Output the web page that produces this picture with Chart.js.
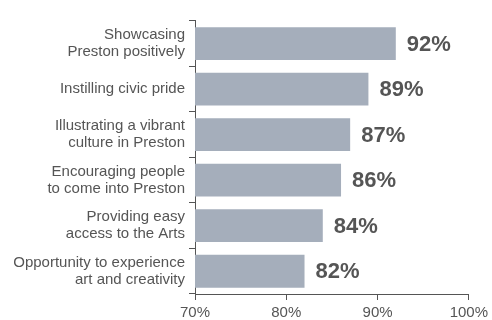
<!DOCTYPE html>
<html>
<head>
<meta charset="utf-8">
<script src="https://cdn.jsdelivr.net/npm/chart.js@4/dist/chart.umd.min.js"></script>
<style>
  html, body { margin: 0; padding: 0; background: #fff; }
  #wrap { width: 492px; height: 320px; position: relative; }
</style>
</head>
<body>
<div id="wrap"><canvas id="benefits"></canvas></div>
<script>
"use strict";

var categories = [
    ['Showcasing', 'Preston positively'],
    'Instilling civic pride',
    ['Illustrating a vibrant', 'culture in Preston'],
    ['Encouraging people', 'to come into Preston'],
    ['Providing easy', 'access to the Arts'],
    ['Opportunity to experience', 'art and creativity']
];
var agreePct = [92, 89, 87, 86, 84, 82];
var tickValues = [70, 80, 90, 100];

var ink = '#555555';

// prints the bold percentage just past the end of each bar
var valueLabels = {
    id: 'valueLabels',
    afterDatasetsDraw: function(chart) {
        var ctx = chart.ctx;
        var meta = chart.getDatasetMeta(0);
        ctx.save();
        ctx.font = 'bold 22px "Liberation Sans", Arial, sans-serif';
        ctx.fillStyle = ink;
        ctx.textAlign = 'left';
        ctx.textBaseline = 'middle';
        meta.data.forEach(function(bar, i) {
            ctx.fillText(agreePct[i] + '%', bar.x + 11, bar.y + 1);
        });
        ctx.restore();
    }
};

new Chart(document.getElementById('benefits'), {
    type: 'bar',
    data: {
        labels: categories,
        datasets: [{
            data: agreePct,
            backgroundColor: '#a5aebb',
            borderWidth: 0,
            barPercentage: 0.72,
            categoryPercentage: 1
        }]
    },
    options: {
        indexAxis: 'y',
        responsive: true,
        maintainAspectRatio: false,
        animation: false,
        layout: { padding: { top: 10, right: 19, left: 0, bottom: 0 } },
        plugins: {
            legend: { display: false },
            tooltip: { enabled: false }
        },
        scales: {
            x: {
                min: tickValues[0],
                max: tickValues[tickValues.length - 1],
                afterBuildTicks: function(scale) {
                    scale.ticks = tickValues.map(function(v) { return { value: v }; });
                },
                afterFit: function(scale) { scale.height = 26; },
                grid: { drawOnChartArea: false, tickLength: 6, color: ink },
                border: { color: ink, width: 1 },
                ticks: {
                    color: ink,
                    padding: 4,
                    font: { family: '"Liberation Sans", Arial, sans-serif', size: 15 },
                    callback: function(v) { return v + '%'; }
                }
            },
            y: {
                afterFit: function(scale) { scale.width = 195; },
                grid: { drawOnChartArea: false, offset: true, tickLength: 6, color: ink },
                border: { color: ink, width: 1 },
                ticks: {
                    color: ink,
                    padding: 4,
                    font: { family: '"Liberation Sans", Arial, sans-serif', size: 15, lineHeight: 1.12 }
                }
            }
        }
    },
    plugins: [valueLabels]
});
</script>
</body>
</html>
